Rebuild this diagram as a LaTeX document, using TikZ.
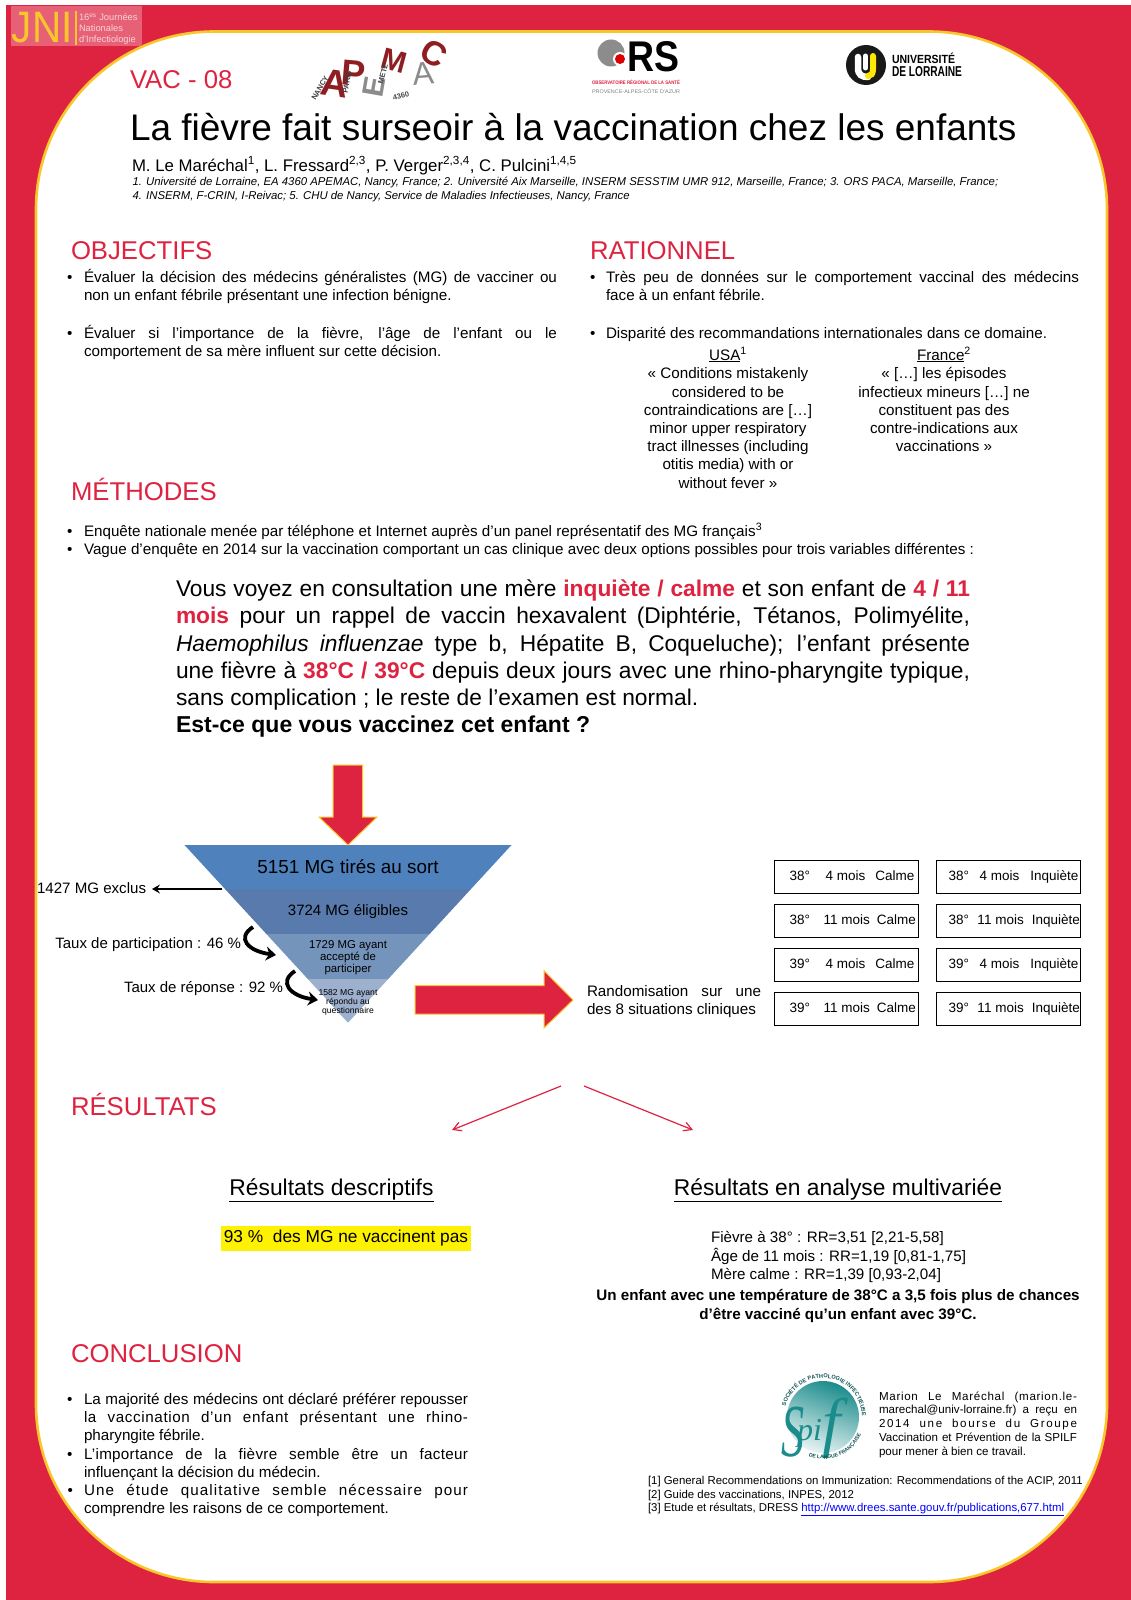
\documentclass[tikz,border=0pt]{standalone}
\usepackage{fontspec}
\usepackage{graphicx}
\setmainfont{Liberation Sans}
\newfontfamily\spiffont{Liberation Serif}
\usetikzlibrary{arrows.meta,decorations.text}
\definecolor{jred}{HTML}{DE2340}
\definecolor{jyel}{HTML}{F9C62B}
\definecolor{darkred}{HTML}{8E1E22}
\definecolor{lgrey}{HTML}{8C8C8C}
\definecolor{teal2}{HTML}{1B8C8C}
\newcommand\fs[1]{\fontsize{#1}{#1}\selectfont}
\newcounter{tn}
\tikzset{tb/.style={inner sep=0pt,outer sep=0pt},
 casebox/.style={draw=black,line width=1pt,minimum width=144pt,minimum height=33pt,inner sep=0pt,font=\fs{13.5}},
 redblock/.style={fill=jred,draw=jyel,line width=1pt},
 funnelband/.style={draw=none},
 curly/.style={line width=3.8pt,-{Stealth[length=10pt,width=14pt]},black},
 thinred/.style={draw=jred,line width=1.2pt,-{Straight Barb[length=8pt,width=9pt]}},
 heading/.style={tb,anchor=base west,text=jred,font=\fs{25.7}}}
\newcommand\TL[4]{\stepcounter{tn}\node[tb,anchor=base west] (t\arabic{tn}) at (#1,#2) {\fs{#3}#4};}
\newcommand\TC[4]{\stepcounter{tn}\node[tb,anchor=base] (t\arabic{tn}) at (#1,#2) {\fs{#3}#4};}
\newcommand\JL[5]{\stepcounter{tn}\node[tb,anchor=base west] (t\arabic{tn}) at (#1,#2) {\fs{#3}\makebox[#4pt][s]{#5}};}
\newcommand\RB[1]{\textcolor{jred}{\bfseries #1}}
\newcommand\Cbox[6]{\node[casebox,anchor=north west] (#1) at (#2,#3) {\raisebox{-1.5pt}{\makebox[144pt][l]{\vphantom{Çq}\rlap{\hspace{#4pt}#5}#6}}};}
\newcommand\LS[2]{{\addfontfeature{LetterSpace=#1}#2}}
\begin{document}
\begin{tikzpicture}[x=1pt,y=-1pt]
\useasboundingbox (0,0) rectangle (1131,1600);
\fill[white] (0,0) rectangle (1131,1600);
\fill[jred] (6,5) rectangle (1131,1600);
\filldraw[fill=white,draw=jyel,line width=2.6pt,rounded corners=178pt] (36,31.5) rectangle (1107,1582);
% JNI logo
\fill[jred!72!white] (11,6) rectangle (142,46);
\node[tb,anchor=base west,text=jyel] (jni) at (12,43) {\fs{44}\scalebox{0.92}[1]{JNI}};
\fill[jyel] (75,11) rectangle (76.5,45);
\TL{79}{21}{9.3}{\textcolor{white!80!jred}{16\textsuperscript{es} Journées}}
\TL{79}{31.7}{9.3}{\textcolor{white!80!jred}{Nationales}}
\TL{79}{42.7}{9.3}{\textcolor{white!80!jred}{d'Infectiologie}}
% APEMAC logo
\node[tb,text=darkred,rotate=-8] (la1) at (335,83) {\fs{38}\bfseries A};
\node[tb,text=darkred,rotate=-5] (lp) at (354,73) {\fs{36}\bfseries P};
\node[tb,text=lgrey,rotate=80] (le) at (374,87) {\fs{30}\bfseries E};
\node[tb,text=darkred,rotate=-15] (lm) at (394,61) {\fs{30}\bfseries M};
\node[tb,text=lgrey,rotate=5] (la2) at (423,74) {\fs{32}A};
\node[tb,text=darkred,rotate=-30] (lc) at (434,54) {\fs{34}\bfseries C};
\node[tb,text=black!75,rotate=60] (ln) at (320,88) {\fs{7.5}\bfseries NANCY};
\node[tb,text=black!75,rotate=80] (lpa) at (347,82) {\fs{7.5}\bfseries PARIS};
\node[tb,text=black!75,rotate=75] (lme) at (383,74) {\fs{7.5}\bfseries METZ};
\node[tb,text=black!70,rotate=15] (l43) at (401,96) {\fs{7.5}\bfseries 4360};
% ORS logo
\fill[black!45] (611,53) circle (13.5);
\fill[white] (620,59) circle (7);
\fill[red!85!black] (620,59) circle (5);
\node[tb,anchor=west] (ors) at (627,57) {\resizebox{52pt}{30pt}{\bfseries RS}};
\node[tb,text=jred] (ors1) at (636,82.5) {\resizebox{88pt}{4.5pt}{\bfseries OBSERVATOIRE RÉGIONAL DE LA SANTÉ}};
\node[tb,text=black!50] (ors2) at (636,91) {\resizebox{88pt}{4.5pt}{PROVENCE-ALPES-CÔTE D'AZUR}};
% UL logo
\fill[black!90] (866,65) circle (20);
\draw[white,line width=6.5pt,line cap=round] (858,57) -- (858,68) .. controls (858,75) and (862,77) .. (868,77);
\draw[white,line width=5pt,line cap=round] (865.5,56) -- (865.5,68);
\draw[yellow!90!orange,line width=6pt,line cap=round] (873,56) -- (873,69) .. controls (873,74) and (871,76) .. (868,76);
\node[tb,anchor=base west] (ul1) at (892,64) {\resizebox{63pt}{10.5pt}{\bfseries UNIVERSITÉ}};
\node[tb,anchor=base west] (ul2) at (892,77) {\resizebox{70pt}{10pt}{\bfseries DE LORRAINE}};
% Header
\TL{130}{88.3}{25.7}{\textcolor{jred}{VAC - 08}}
\TL{130}{141}{37}{La fièvre fait surseoir à la vaccination chez les enfants}
\TL{132}{171}{16.8}{M. Le Maréchal\textsuperscript{1}, L. Fressard\textsuperscript{2,3}, P. Verger\textsuperscript{2,3,4}, C. Pulcini\textsuperscript{1,4,5}}
\TL{132.5}{185}{11.36}{\itshape 1. Université de Lorraine, EA 4360 APEMAC, Nancy, France; 2. Université Aix Marseille, INSERM SESSTIM UMR 912, Marseille, France; 3. ORS PACA, Marseille, France;}
\TL{132.5}{199.3}{11.36}{\itshape 4. INSERM, F-CRIN, I-Reivac; 5. CHU de Nancy, Service de Maladies Infectieuses, Nancy, France}
% Objectifs
\node[heading] (hobj) at (71,259.5) {OBJECTIFS};
\TL{67}{282.5}{15.2}{•}
\JL{84}{282.5}{15.2}{473}{Évaluer la décision des médecins généralistes (MG) de vacciner ou}
\TL{84}{300}{15.2}{non un enfant fébrile présentant une infection bénigne.}
\TL{67}{338}{15.2}{•}
\JL{84}{338}{15.2}{473}{Évaluer si l’importance de la fièvre, l’âge de l’enfant ou le}
\TL{84}{356}{15.2}{comportement de sa mère influent sur cette décision.}
% Rationnel
\node[heading] (hrat) at (590,259.5) {RATIONNEL};
\TL{590}{282.5}{15.2}{•}
\JL{606}{282.5}{15.2}{473}{Très peu de données sur le comportement vaccinal des médecins}
\TL{606}{300}{15.2}{face à un enfant fébrile.}
\TL{590}{338}{15.2}{•}
\TL{606}{338}{15.2}{Disparité des recommandations internationales dans ce domaine.}
\TC{728}{360}{15.2}{\underline{USA}\textsuperscript{1}}
\TC{728}{378}{15.2}{« Conditions mistakenly}
\TC{728}{397}{15.2}{considered to be}
\TC{728}{415}{15.2}{contraindications are […]}
\TC{728}{433}{15.2}{minor upper respiratory}
\TC{728}{451}{15.2}{tract illnesses (including}
\TC{728}{469}{15.2}{otitis media) with or}
\TC{728}{488}{15.2}{without fever »}
\TC{944}{360}{15.2}{\underline{France}\textsuperscript{2}}
\TC{944}{378}{15.2}{« […] les épisodes}
\TC{944}{397}{15.2}{infectieux mineurs […] ne}
\TC{944}{415}{15.2}{constituent pas des}
\TC{944}{433}{15.2}{contre-indications aux}
\TC{944}{451}{15.2}{vaccinations »}
% Methodes
\node[heading] (hmet) at (71,500.5) {MÉTHODES};
\TL{67}{536}{15.2}{•}
\TL{84}{536}{15.2}{Enquête nationale menée par téléphone et Internet auprès d’un panel représentatif des MG français\textsuperscript{3}}
\TL{67}{554}{15.2}{•}
\TL{84}{554}{15.2}{Vague d’enquête en 2014 sur la vaccination comportant un cas clinique avec deux options possibles pour trois variables différentes :}
% Case
\JL{176}{596}{22.75}{794}{Vous voyez en consultation une mère \RB{inquiète / calme} et son enfant de \RB{4 / 11}}
\JL{176}{623}{22.75}{794}{\RB{mois} pour un rappel de vaccin hexavalent (Diphtérie, Tétanos, Polimyélite,}
\JL{176}{651}{22.75}{794}{\textit{Haemophilus influenzae} type b, Hépatite B, Coqueluche); l'enfant présente}
\JL{176}{678}{22.75}{794}{une fièvre à \RB{38°C / 39°C} depuis deux jours avec une rhino-pharyngite typique,}
\TL{176}{705.5}{22.75}{sans complication ; le reste de l'examen est normal.}
\TL{176}{732.5}{23}{\bfseries Est-ce que vous vaccinez cet enfant ?}
% Funnel
\fill[funnelband,fill={rgb,255:red,79;green,129;blue,189}] (184.5,845) -- (511.5,845) -- (471,889) -- (225,889) -- cycle;
\fill[funnelband,fill={rgb,255:red,88;green,122;blue,172}] (225,889) -- (471,889) -- (429.6,934) -- (266.4,934) -- cycle;
\fill[funnelband,fill={rgb,255:red,117;green,148;blue,188}] (266.4,934) -- (429.6,934) -- (388.2,979) -- (307.8,979) -- cycle;
\fill[funnelband,fill={rgb,255:red,157;green,176;blue,206}] (307.8,979) -- (388.2,979) -- (348,1022.7) -- cycle;
\node[tb] (f1) at (348,867) {\fs{18.85}5151 MG tirés au sort};
\node[tb] (f2) at (348,912) {\fs{15}3724 MG éligibles};
\TC{348}{948}{11.4}{1729 MG ayant}
\TC{348}{960.5}{11.4}{accepté de}
\TC{348}{972.5}{11.4}{participer}
\TC{348}{995}{8.6}{1582 MG ayant}
\TC{348}{1004}{8.6}{répondu au}
\TC{348}{1013}{8.6}{questionnaire}
% Block arrows
\filldraw[redblock] (333,765) -- (362.5,765) -- (362.5,817) -- (377,817) -- (348,845) -- (319,817) -- (333,817) -- cycle;
\filldraw[redblock] (415,985.7) -- (544,985.7) -- (544,970.7) -- (573,1000) -- (544,1028) -- (544,1014) -- (415,1014) -- cycle;
% Funnel side texts
\node[tb,anchor=west] (excl) at (37,888) {\fs{15.1}1427 MG exclus};
\coordinate (exclfrom) at (222,889);
\coordinate (exclto) at (152,889);
\draw[line width=1.4pt,-{Stealth[length=8pt,width=9pt,inset=3pt]}] (exclfrom) -- (exclto);
\node[tb,anchor=east] (tp) at (241,945) {\fs{15}Taux de participation : 46 \%};
\node[tb,anchor=east] (tr) at (283,989) {\fs{15}Taux de réponse : 92 \%};
\coordinate (c1a) at (253,927);
\coordinate (c1b) at (276,955);
\coordinate (c2a) at (295,971);
\coordinate (c2b) at (318,1000);
\draw[curly] (c1a) .. controls (236,938) and (248,951) .. (c1b);
\draw[curly] (c2a) .. controls (278,982) and (290,996) .. (c2b);
% Randomisation
\JL{587}{996}{15.2}{174}{Randomisation sur une}
\TL{587}{1014}{15.2}{des 8 situations cliniques}
% Case boxes
\Cbox{b1}{774}{860}{15}{38°}{\hspace{51pt}4 mois\hspace{10pt}Calme}
\Cbox{b2}{774}{904}{15}{38°}{\hspace{49pt}11 mois\hspace{7pt}Calme}
\Cbox{b3}{774}{948}{15}{39°}{\hspace{51pt}4 mois\hspace{10pt}Calme}
\Cbox{b4}{774}{992}{15}{39°}{\hspace{49pt}11 mois\hspace{7pt}Calme}
\Cbox{b5}{936}{860}{12}{38°}{\hspace{43pt}4 mois\hspace{11pt}Inquiète}
\Cbox{b6}{936}{904}{12}{38°}{\hspace{41pt}11 mois\hspace{8pt}Inquiète}
\Cbox{b7}{936}{948}{12}{39°}{\hspace{43pt}4 mois\hspace{11pt}Inquiète}
\Cbox{b8}{936}{992}{12}{39°}{\hspace{41pt}11 mois\hspace{8pt}Inquiète}
% Resultats
\node[heading] (hres) at (71,1115) {RÉSULTATS};
\coordinate (ra) at (561,1086); \coordinate (rb) at (452,1130);
\coordinate (rc) at (584,1086); \coordinate (rd) at (693,1130);
\draw[thinred] (ra) -- (rb);
\draw[thinred] (rc) -- (rd);
\TC{331.5}{1195.5}{22.8}{\underline{Résultats descriptifs}}
\TC{838}{1195.5}{22.8}{\underline{Résultats en analyse multivariée}}
\node[fill=yellow,inner sep=0pt,minimum width=250pt,minimum height=25pt] (hl) at (346,1238) {\fs{17.3}93 \%\ \ des MG ne vaccinent pas};
\TL{711}{1242}{15.15}{Fièvre à 38° : RR=3,51 [2,21-5,58]}
\TL{711}{1261}{15.15}{Âge de 11 mois : RR=1,19 [0,81-1,75]}
\TL{711}{1279}{15.15}{Mère calme : RR=1,39 [0,93-2,04]}
\TC{838}{1300}{15.2}{\bfseries Un enfant avec une température de 38°C a 3,5 fois plus de chances}
\TC{838}{1319}{15.2}{\bfseries d’être vacciné qu’un enfant avec 39°C.}
% Conclusion
\node[heading] (hcon) at (71,1362) {CONCLUSION};
\TL{67}{1404}{15.2}{•}
\JL{84}{1404}{15.2}{384}{La majorité des médecins ont déclaré préférer repousser}
\JL{84}{1422}{15.2}{384}{\LS{4}{la vaccination d’un enfant présentant une rhino-}}
\TL{84}{1440}{15.2}{pharyngite fébrile.}
\TL{67}{1459}{15.2}{•}
\JL{84}{1459}{15.2}{384}{\LS{2}{L’importance de la fièvre semble être un facteur}}
\TL{84}{1477}{15.2}{influençant la décision du médecin.}
\TL{67.5}{1495}{15.2}{•}
\JL{84}{1495}{15.2}{384}{\LS{7}{Une étude qualitative semble nécessaire pour}}
\TL{84}{1513}{15.2}{comprendre les raisons de ce comportement.}
% SPIF logo
\begin{scope}[shift={(823,1417)},y=1pt]
\shade[top color=teal2,bottom color=teal2!10!white,shading angle=-20] (0,0) circle (36);
\end{scope}
\node[tb,anchor=base west,text=teal2] (spif) at (781,1456) {\spiffont\itshape\fs{44}\scalebox{1.05}[1.7]{S}\kern-7pt\raisebox{16pt}{\fs{32}pi}\raisebox{12pt}{\fs{66}f}};
\begin{scope}[shift={(823,1417)},y=1pt]
\path[decorate,decoration={text along path,text align=center,text={|\fs{5.6}\bfseries\color{teal2!60!black}|SOCIÉTÉ DE PATHOLOGIE INFECTIEUSE}}] (170:39) arc[start angle=170,end angle=-5,radius=39];
\path[decorate,decoration={text along path,text align=center,text={|\fs{5.2}\bfseries\color{teal2!60!black}|DE LANGUE FRANÇAISE}}] (245:42) arc[start angle=245,end angle=340,radius=42];
\end{scope}
\JL{879}{1400}{11.6}{198}{\LS{6}{Marion Le Maréchal (marion.le-}}
\JL{879}{1413}{11.6}{198}{marechal@univ-lorraine.fr) a reçu en}
\JL{879}{1427}{11.6}{198}{\LS{14}{2014 une bourse du Groupe}}
\JL{879}{1441}{11.6}{198}{Vaccination et Prévention de la SPILF}
\TL{879}{1455}{11.6}{pour mener à bien ce travail.}
\TL{648}{1484}{11.4}{[1] General Recommendations on Immunization: Recommendations of the ACIP, 2011}
\TL{648}{1498}{11.4}{[2] Guide des vaccinations, INPES, 2012}
\TL{648}{1511}{11.4}{[3] Etude et résultats, DRESS \textcolor{blue}{\underline{http://www.drees.sante.gouv.fr/publications,677.html}}}
\end{tikzpicture}
\end{document}
